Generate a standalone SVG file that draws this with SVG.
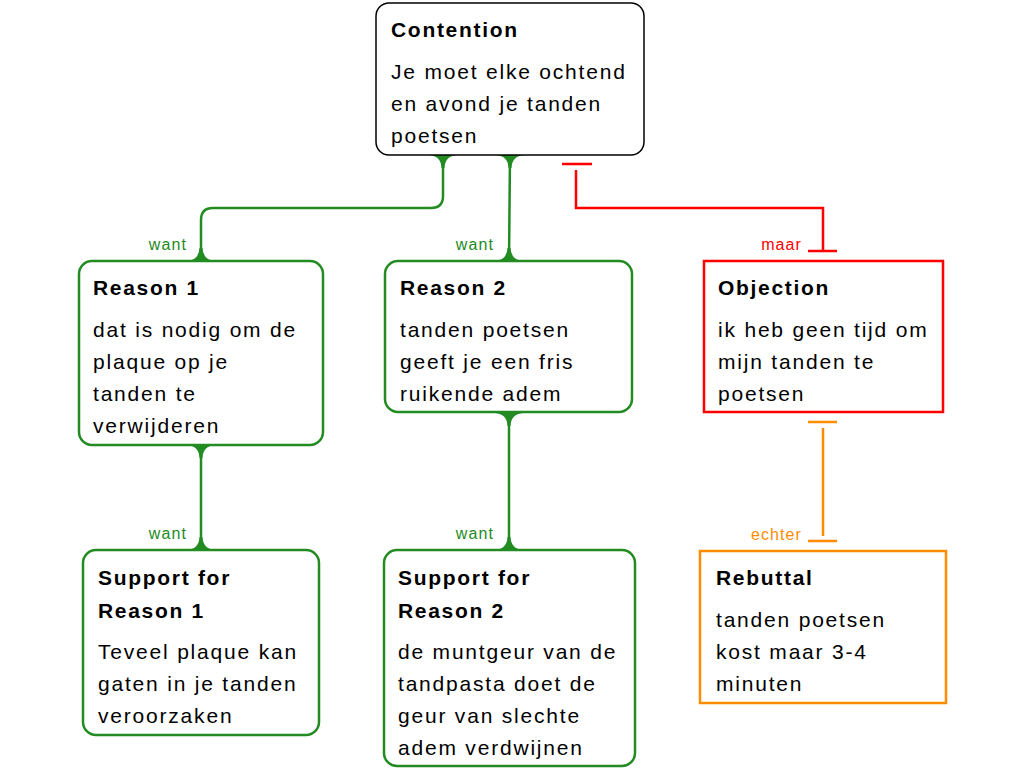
<svg xmlns="http://www.w3.org/2000/svg" width="1024" height="768" viewBox="0 0 1024 768">
<style>
  .t { font-family: "Liberation Sans", Arial, sans-serif; font-size: 21px; letter-spacing: 1.8px; fill: #000; }
  .h { font-family: "Liberation Sans", Arial, sans-serif; font-size: 21px; font-weight: bold; letter-spacing: 1.7px; fill: #000; }
  .lbl { font-family: "Liberation Sans", Arial, sans-serif; font-size: 16px; letter-spacing: 1.1px; text-anchor: end; }
  .g { fill: none; stroke: #228B22; stroke-width: 2.5; }
  .gf { fill: #228B22; }
  .r { fill: none; stroke: #FF0000; stroke-width: 2.5; }
  .o { fill: none; stroke: #FF8C00; stroke-width: 2.5; }
  .box { fill: #fff; }
</style>
<defs>
  <path id="flareUp" d="M-14,0 Q-2,-1 -1.5,-13 L1.5,-13 Q2,-1 14,0 Z" class="gf"/>
  <path id="flareDown" d="M-14,0 Q-2,1 -1.5,13 L1.5,13 Q2,1 14,0 Z" class="gf"/>
</defs>

<g id="connectors">
  <path class="g" d="M201,261 V220 Q201,208 213,208 H431 Q443,208 443,196 V155"/>
  <path class="g" d="M509,261 L510,155"/>
  <path class="g" d="M201,445 V550"/>
  <path class="g" d="M509,413 V550"/>
  <use href="#flareUp" x="201" y="261"/>
  <use href="#flareDown" x="443" y="155"/>
  <use href="#flareUp" x="509" y="261"/>
  <use href="#flareDown" x="510" y="155"/>
  <use href="#flareDown" x="201" y="445"/>
  <use href="#flareUp" x="201" y="550"/>
  <use href="#flareDown" x="509" y="413"/>
  <use href="#flareUp" x="509" y="550"/>
  <text class="lbl" x="187" y="250" fill="#228B22">want</text>
  <text class="lbl" x="494" y="250" fill="#228B22">want</text>
  <text class="lbl" x="187" y="539" fill="#228B22">want</text>
  <text class="lbl" x="494" y="539" fill="#228B22">want</text>

  <path class="r" d="M823,250 V208 H576 V170"/>
  <path class="r" d="M808,251 H837 M562,164 H592"/>
  <text class="lbl" x="802" y="250" fill="#FF0000">maar</text>

  <path class="o" d="M823,428 V536"/>
  <path class="o" d="M808,422 H837 M808,541 H837"/>
  <text class="lbl" x="802" y="540" fill="#FF8C00">echter</text>
</g>

<g id="contention">
  <rect class="box" x="376" y="3" width="268" height="152" rx="13" stroke="#000" stroke-width="1.5"/>
  <text class="h" x="391" y="37">Contention</text>
  <text class="t" x="391" y="79">Je moet elke ochtend</text>
  <text class="t" x="391" y="111">en avond je tanden</text>
  <text class="t" x="391" y="143">poetsen</text>
</g>

<g id="reason1">
  <rect class="g" x="79" y="261" width="244" height="184" rx="13" style="fill:#fff"/>
  <text class="h" x="93" y="295">Reason 1</text>
  <text class="t" x="93" y="337">dat is nodig om de</text>
  <text class="t" x="93" y="369">plaque op je</text>
  <text class="t" x="93" y="401">tanden te</text>
  <text class="t" x="93" y="433">verwijderen</text>
</g>

<g id="reason2">
  <rect class="g" x="385" y="261" width="247" height="151" rx="13" style="fill:#fff"/>
  <text class="h" x="400" y="295">Reason 2</text>
  <text class="t" x="400" y="337">tanden poetsen</text>
  <text class="t" x="400" y="369">geeft je een fris</text>
  <text class="t" x="400" y="401">ruikende adem</text>
</g>

<g id="objection">
  <rect class="r" x="704" y="261" width="239" height="151" style="fill:#fff"/>
  <text class="h" x="718" y="295">Objection</text>
  <text class="t" x="718" y="337">ik heb geen tijd om</text>
  <text class="t" x="718" y="369">mijn tanden te</text>
  <text class="t" x="718" y="401">poetsen</text>
</g>

<g id="support1">
  <rect class="g" x="83" y="550" width="236" height="185" rx="13" style="fill:#fff"/>
  <text class="h" x="98" y="585">Support for</text>
  <text class="h" x="98" y="618">Reason 1</text>
  <text class="t" x="98" y="659">Teveel plaque kan</text>
  <text class="t" x="98" y="691">gaten in je tanden</text>
  <text class="t" x="98" y="723">veroorzaken</text>
</g>

<g id="support2">
  <rect class="g" x="384" y="550" width="251" height="216" rx="13" style="fill:#fff"/>
  <text class="h" x="398" y="585">Support for</text>
  <text class="h" x="398" y="618">Reason 2</text>
  <text class="t" x="398" y="659">de muntgeur van de</text>
  <text class="t" x="398" y="691">tandpasta doet de</text>
  <text class="t" x="398" y="723">geur van slechte</text>
  <text class="t" x="398" y="755">adem verdwijnen</text>
</g>

<g id="rebuttal">
  <rect class="o" x="700" y="551" width="246" height="152" style="fill:#fff"/>
  <text class="h" x="716" y="585">Rebuttal</text>
  <text class="t" x="716" y="627">tanden poetsen</text>
  <text class="t" x="716" y="659">kost maar 3-4</text>
  <text class="t" x="716" y="691">minuten</text>
</g>
</svg>
